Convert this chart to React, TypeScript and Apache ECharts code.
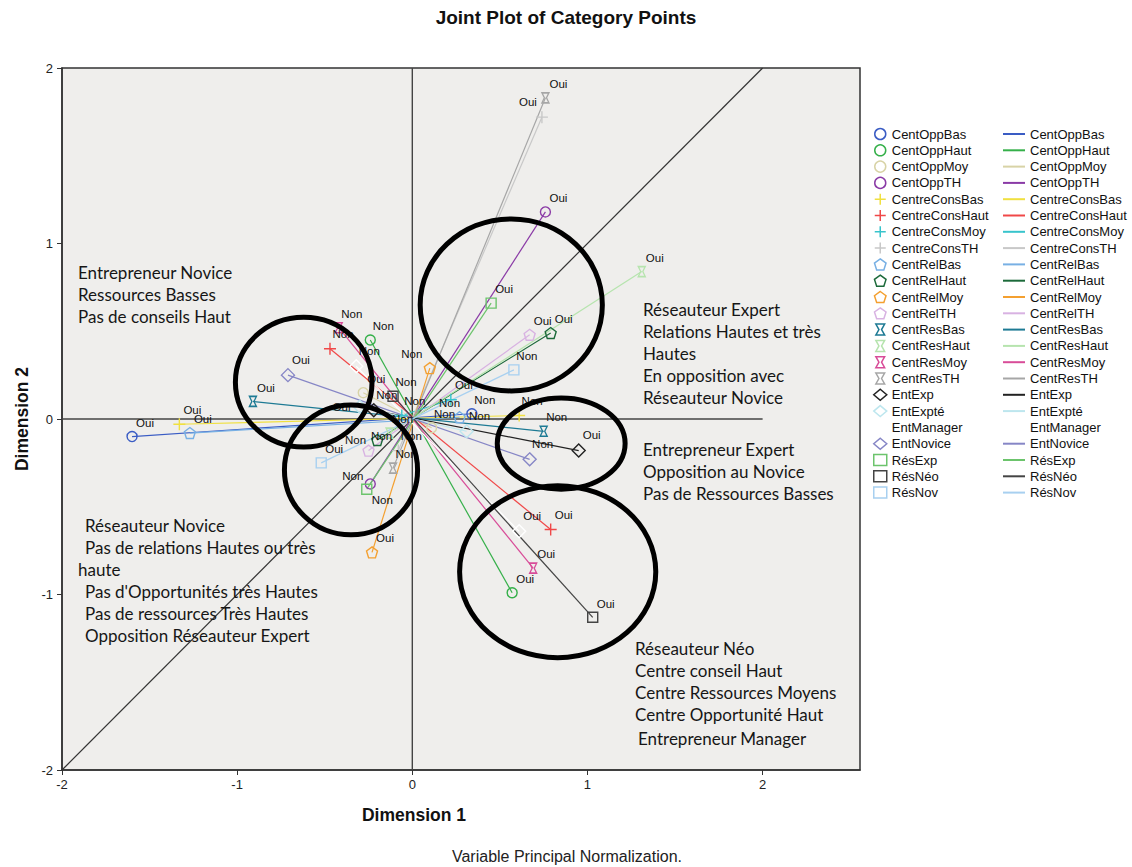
import React, { useEffect, useRef } from 'react';
import * as echarts from 'echarts';

// ---- Data ----
const variables = [
  'CentOppBas', 'CentOppHaut', 'CentOppMoy', 'CentOppTH',
  'CentreConsBas', 'CentreConsHaut', 'CentreConsMoy', 'CentreConsTH',
  'CentRelBas', 'CentRelHaut', 'CentRelMoy', 'CentRelTH',
  'CentResBas', 'CentResHaut', 'CentResMoy', 'CentResTH',
  'EntExp', 'EntExpté', 'EntManager', 'EntNovice',
  'RésExp', 'RésNéo', 'RésNov',
];
const categoryNames = ['Non', 'Oui'];
// Category "Non" coordinates
const nonX = [0.34, -0.24, 0.11, -0.24, 0.61, -0.47, -0.06, -0.08, 0.27, -0.20, 0.10, -0.25, 0.75, -0.13, -0.42, -0.11, -0.22, 0.31, -0.32, 0.67, -0.26, -0.11, 0.58];
const nonY = [0.03, 0.45, -0.05, -0.37, 0.02, 0.40, 0.02, -0.18, 0.01, -0.12, 0.29, -0.18, -0.07, -0.08, 0.52, -0.28, 0.05, -0.07, 0.30, -0.23, -0.40, 0.13, 0.28];
// Category "Oui" coordinates
const ouiX = [-1.60, 0.57, -0.28, 0.76, -1.33, 0.79, 0.22, 0.74, -1.27, 0.79, -0.23, 0.67, -0.91, 1.31, 0.69, 0.76, 0.95, -0.30, 0.61, -0.71, 0.45, 1.03, -0.52];
const ouiY = [-0.10, -0.99, 0.15, 1.18, -0.03, -0.63, 0.11, 1.72, -0.08, 0.49, -0.76, 0.48, 0.10, 0.84, -0.85, 1.83, -0.18, 0.07, -0.64, 0.25, 0.66, -1.13, -0.25];

const xTicks = [-2, -1, 0, 1, 2];
const yTicks = [-2, -1, 0, 1, 2];

// Annotation circles: centre x, centre y, radius x, radius y (data units)
const circleCX = [-0.62, -0.35, 0.565, 0.85, 0.83];
const circleCY = [0.21, -0.29, 0.65, -0.14, -0.87];
const circleRX = [0.39, 0.38, 0.52, 0.365, 0.56];
const circleRY = [0.37, 0.37, 0.49, 0.26, 0.49];

const annotationLines = [
  'Entrepreneur Novice', 'Ressources Basses', 'Pas de conseils Haut',
  'Réseauteur Expert', 'Relations Hautes et très', 'Hautes', 'En opposition avec', 'Réseauteur Novice',
  'Entrepreneur Expert', 'Opposition au Novice', 'Pas de Ressources Basses',
  'Réseauteur Novice', 'Pas de relations Hautes ou très', 'haute', "Pas d'Opportunités très Hautes", 'Pas de ressources Très Hautes', 'Opposition Réseauteur Expert',
  'Réseauteur Néo', 'Centre conseil Haut', 'Centre Ressources Moyens', 'Centre Opportunité Haut', 'Entrepreneur Manager',
];

// ---- Styles ----
const colors = [
  '#3a5cc4', '#35b04a', '#d8d3a6', '#8a3aa6',
  '#f0e040', '#f04848', '#38c4cc', '#c8c8c8',
  '#78b0e4', '#1c6a3a', '#f4a030', '#d8b2e2',
  '#1d7a94', '#b6e4ae', '#d84c98', '#a6a6a6',
  '#222222', '#bde6ee', '#ffffff', '#8686c6',
  '#6cc46c', '#444444', '#a8d0f0',
];
const PLUS = 'path://M6 0V12M0 6H12';
const PENT = 'path://M5 0L10 3.6L8.1 9.5L1.9 9.5L0 3.6Z';
const HOUR = 'path://M0 0H8L5.2 5L8 10H0L2.8 5Z';
const symbols = [
  'circle', 'circle', 'circle', 'circle',
  PLUS, PLUS, PLUS, PLUS,
  PENT, PENT, PENT, PENT,
  HOUR, HOUR, HOUR, HOUR,
  'diamond', 'diamond', 'diamond', 'diamond',
  'rect', 'rect', 'rect',
];
const symbolSizes: any[] = [
  10, 10, 10, 10,
  12, 12, 12, 12,
  11, 11, 11, 11,
  [7, 10], [7, 10], [7, 10], [7, 10],
  13, 13, 13, 13,
  10, 10, 10,
];
// label placement overrides: "variable|category" -> [position, offsetX, offsetY]
const labelOverrides: Record<string, [string, number, number]> = {
  'CentreConsTH|Oui': ['top', -14, 0],
  'CentOppTH|Non': ['bottom', 12, 2],
  'RésExp|Non': ['top', -14, 0],
  'CentRelBas|Non': ['top', -10, 0],
  'CentRelMoy|Non': ['top', -18, 0],
  'EntExpté|Oui': ['left', 0, 0],
  'CentRelHaut|Non': ['left', -3, 0],
};
const annotationPos: [number, number][] = [
  [78, 275], [78, 297], [78, 319],
  [643, 312], [643, 334], [643, 356], [643, 378], [643, 400],
  [643, 452], [643, 474], [643, 496],
  [85, 528], [85, 550], [78, 572], [85, 594], [85, 616], [85, 638],
  [635, 651], [635, 673], [635, 695], [635, 717], [638, 741],
];

const FONT = 'Liberation Sans, Arial, sans-serif';

export default function App() {
  const ref = useRef<HTMLDivElement>(null);
  useEffect(() => {
    if (!ref.current) return;
    const chart = echarts.init(ref.current, null, { renderer: 'svg' });

    const point = (name: string, cat: string, x: number, y: number) => {
      const o = labelOverrides[name + '|' + cat];
      const item: any = { name: cat, value: [x, y] };
      if (o) item.label = { position: o[0], offset: [o[1], o[2]] };
      return item;
    };

    const varSeries: any[] = variables.map((name, i) => ({
      type: 'line',
      name,
      data: [
        point(name, categoryNames[0], nonX[i], nonY[i]),
        point(name, categoryNames[1], ouiX[i], ouiY[i]),
      ],
      symbol: symbols[i],
      symbolSize: symbolSizes[i],
      showSymbol: true,
      showAllSymbol: true,
      lineStyle: { color: colors[i], width: 1.2 },
      itemStyle: { color: 'rgba(0,0,0,0)', borderColor: colors[i], borderWidth: 1.4 },
      label: {
        show: true,
        formatter: '{b}',
        position: 'top',
        distance: 2,
        offset: [13, 0],
        color: '#111',
        fontSize: 11.5,
        fontFamily: FONT,
      },
      emphasis: { disabled: true },
      z: 3,
    }));

    const refSeries: any[] = [
      {
        type: 'line', name: '_diag', data: [[-2, -2], [2, 2]], symbol: 'none',
        lineStyle: { color: '#333', width: 1.2 }, silent: true, z: 1,
      },
      {
        type: 'line', name: '_h0', data: [[-2, 0], [2, 0]], symbol: 'none',
        lineStyle: { color: '#444', width: 1.4 }, silent: true, z: 1,
      },
      {
        type: 'line', name: '_v0', data: [[0, -2], [0, 2]], symbol: 'none',
        lineStyle: { color: '#444', width: 1.4 }, silent: true, z: 1,
      },
    ];

    const circleSeries = {
      type: 'custom',
      name: '_circles',
      silent: true,
      clip: false,
      z: 10,
      encode: { x: 0, y: 1 },
      data: circleCX.map((cx, i) => [cx, circleCY[i], circleRX[i], circleRY[i]]),
      renderItem: (_p: any, api: any) => {
        const c = api.coord([api.value(0), api.value(1)]);
        const s = api.size([api.value(2), api.value(3)]);
        return {
          type: 'ellipse',
          shape: { cx: c[0], cy: c[1], rx: s[0], ry: s[1] },
          style: { fill: 'none', stroke: '#000', lineWidth: 5 },
        };
      },
    };

    const legendFont = { fontSize: 13, fontFamily: FONT, color: '#111', lineHeight: 14 };

    const option: any = {
      animation: false,
      backgroundColor: '#ffffff',
      title: {
        text: 'Joint Plot of Category Points',
        left: 'center',
        top: 3,
        textStyle: { fontSize: 19, fontWeight: 'bold', fontFamily: FONT, color: '#111' },
      },
      grid: {
        left: 62, right: 272, top: 68, bottom: 97,
        show: true, backgroundColor: '#efeeec', borderColor: '#333', borderWidth: 1.5,
      },
      xAxis: {
        type: 'value', min: xTicks[0], max: 2.556, interval: 1,
        splitLine: { show: false },
        axisLine: { show: true, onZero: false, lineStyle: { color: '#333', width: 1.5 } },
        axisTick: { show: true, length: 5, lineStyle: { color: '#333' } },
        axisLabel: {
          showMaxLabel: false, color: '#222', fontSize: 13, margin: 8,
          fontFamily: FONT,
          formatter: (v: number) => (xTicks.includes(v) ? String(v) : ''),
        },
      },
      yAxis: {
        type: 'value', min: yTicks[0], max: yTicks[yTicks.length - 1], interval: 1,
        name: 'Dimension 2', nameLocation: 'middle', nameGap: 30, nameRotate: 90,
        nameTextStyle: { fontSize: 17.5, fontWeight: 'bold', fontFamily: FONT, color: '#111' },
        splitLine: { show: false },
        axisLine: { show: true, onZero: false, lineStyle: { color: '#333', width: 1.5 } },
        axisTick: { show: true, length: 5, lineStyle: { color: '#333' } },
        axisLabel: { color: '#222', fontSize: 13, margin: 9, fontFamily: FONT },
      },
      legend: [
        {
          orient: 'vertical', left: 873, top: 127, padding: 0,
          itemWidth: 13, itemHeight: 11, itemGap: 2.3, selectedMode: false,
          textStyle: legendFont,
          data: variables.map((name, i) => ({
            name,
            icon: symbols[i],
            itemStyle: { color: 'rgba(0,0,0,0)', borderColor: colors[i], borderWidth: 1.5 },
          })),
        },
        {
          orient: 'vertical', left: 1003, top: 127, padding: 0,
          itemWidth: 22, itemHeight: 2, itemGap: 2.3, selectedMode: false,
          textStyle: legendFont,
          data: variables.map((name, i) => ({
            name,
            icon: 'rect',
            itemStyle: { color: colors[i], borderWidth: 0 },
          })),
        },
      ],
      graphic: [
        ...annotationLines.map((t, i) => ({
          type: 'text',
          left: annotationPos[i][0],
          top: annotationPos[i][1] - 11,
          silent: true,
          z: 20,
          style: { text: t, font: '17px Lato, "Open Sans", sans-serif', fill: '#161616' },
        })),
        {
          type: 'text', x: 414, y: 815, silent: true,
          style: { text: 'Dimension 1', font: 'bold 17.5px ' + FONT, fill: '#111', textAlign: 'center', textVerticalAlign: 'middle' },
        },
        {
          type: 'text', x: 567, y: 856, silent: true,
          style: { text: 'Variable Principal Normalization.', font: '16px ' + FONT, fill: '#222', textAlign: 'center', textVerticalAlign: 'middle' },
        },
      ],
      series: [...refSeries, ...varSeries, circleSeries],
    };

    chart.setOption(option);
    return () => chart.dispose();
  }, []);

  return (
    <div
      ref={ref}
      style={{ position: 'fixed', left: 0, top: 0, width: 1132, height: 867, background: '#fff' }}
    />
  );
}
